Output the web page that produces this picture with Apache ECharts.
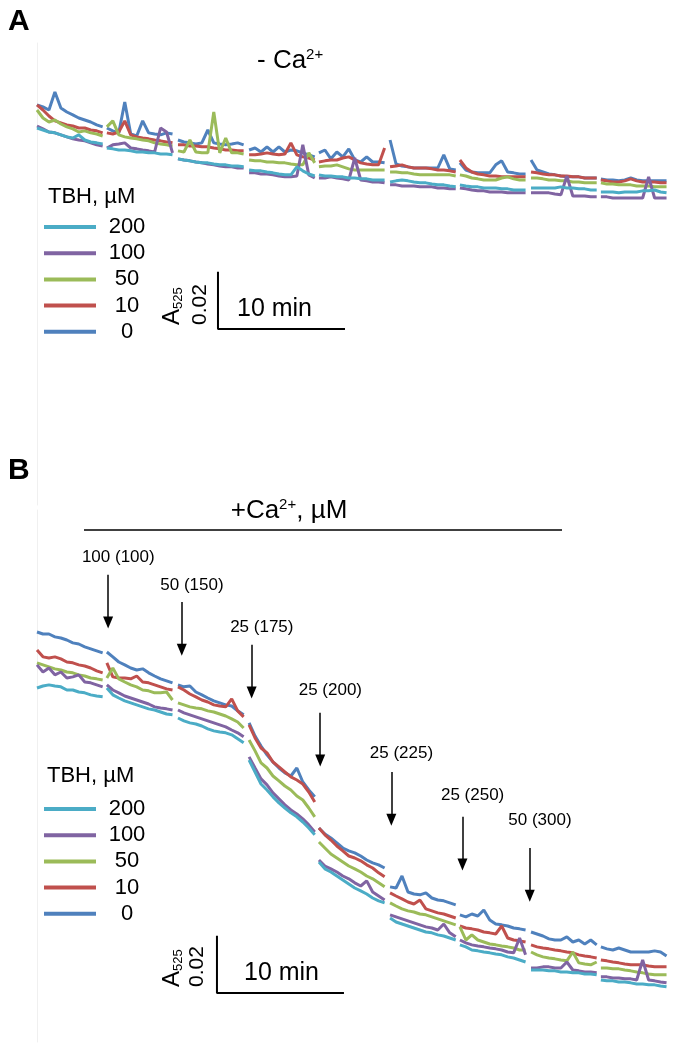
<!DOCTYPE html>
<html>
<head>
<meta charset="utf-8">
<script src="https://cdn.jsdelivr.net/npm/echarts@6/dist/echarts.min.js"></script>
<style>html,body{margin:0;padding:0;background:#fff}#c{width:675px;height:1050px}</style>
</head>
<body>
<div id="c"></div>
<script>
// ---------------- DATA ----------------
// TBH concentrations (µM), in drawing order, and legend order
const tbhLevels = ['0', '10', '50', '100', '200'];
const legendOrder = ['200', '100', '50', '10', '0'];
// Recording segments: start time of each segment (min) and sample interval (min)
const segStartMin = [0, 5.5, 11.1, 16.7, 22.2, 27.8, 33.3, 38.9, 44.4];
const sampleStepMin = 0.47;

// Panel A (- Ca2+): A525 traces, relative mA, one sub-array per segment
const A_tbh0 = [
 [82.3,81.6,80.5,86.8,81.2,79.8,78.8,77.7,77.0,76.3,75.3,74.6],
 [74.2,73.2,72.5,83.3,72.1,71.4,76.7,72.5,72.1,71.8,72.5,72.1],
 [70.0,69.3,69.0,68.6,69.0,73.5,69.0,68.6,68.3,68.6,69.0,68.3],
 [66.5,67.2,65.8,67.6,65.8,67.6,65.8,66.5,66.2,65.5,64.8,64.1],
 [65.5,66.5,63.4,65.8,64.1,66.9,63.0,62.3,64.1,62.3,62.3,62.0],
 [70.0,61.6,60.9,60.6,60.2,60.2,60.2,60.2,60.2,64.8,59.9,59.5],
 [62.0,59.5,58.8,58.5,58.5,58.5,61.3,62.7,58.8,58.5,58.1,58.1],
 [63.0,59.5,58.8,58.1,57.8,57.4,57.1,57.1,57.1,56.7,56.7,56.7],
 [56.4,56.0,56.0,55.7,56.0,56.7,56.0,55.7,55.7,55.7,55.7,55.7]];
const A_tbh10 = [
 [82.3,80.5,78.4,76.7,76.0,75.3,74.9,74.2,74.2,73.5,73.2,72.5],
 [72.5,72.1,72.8,76.7,71.8,71.1,70.7,70.4,70.0,69.7,69.3,69.0],
 [68.3,68.3,67.9,67.9,67.6,67.6,67.2,66.9,66.5,66.5,66.2,66.2],
 [64.8,64.8,65.1,65.5,65.1,64.8,65.1,69.0,64.8,64.1,63.7,63.0],
 [62.3,62.7,63.0,63.0,63.7,64.1,63.0,62.0,61.6,61.3,61.3,67.2],
 [60.6,60.9,61.3,60.6,60.2,60.2,60.2,59.9,59.5,59.5,59.2,58.8],
 [63.0,60.2,58.8,58.1,57.8,57.4,57.4,57.1,57.1,57.1,57.1,57.1],
 [58.8,58.5,58.1,57.8,57.8,57.4,57.4,57.1,57.1,56.7,56.7,56.7],
 [56.0,55.7,55.3,55.3,55.7,56.4,55.7,55.3,55.3,55.3,55.0,55.0]];
const A_tbh50 = [
 [80.5,77.7,76.3,77.0,75.6,74.6,73.9,72.8,73.2,72.5,72.1,71.4],
 [74.6,76.7,71.8,71.1,70.7,70.4,70.0,69.7,69.0,68.6,68.3,67.9],
 [66.2,65.8,70.0,65.8,65.5,65.5,79.8,65.5,70.7,65.5,65.5,65.1],
 [63.0,62.7,62.7,62.3,62.3,62.0,62.0,61.6,61.3,61.3,65.5,62.0],
 [60.6,60.9,60.9,61.3,60.6,59.9,59.5,59.5,59.5,59.5,59.5,59.5],
 [58.8,58.8,58.5,58.5,58.1,57.8,57.8,57.8,57.8,57.8,57.8,57.4],
 [57.8,57.4,56.7,56.4,56.0,56.0,56.0,56.7,57.1,56.4,56.0,56.0],
 [56.7,56.7,56.4,56.0,56.0,55.7,55.7,55.3,55.3,55.0,55.0,55.0],
 [55.0,54.6,54.6,54.3,54.3,54.3,53.9,53.9,53.9,53.6,53.6,53.6]];
const A_tbh100 = [
 [74.9,73.9,72.8,72.5,71.8,71.1,70.4,70.0,69.7,69.0,68.3,67.9],
 [67.2,68.3,68.6,69.0,67.2,66.9,66.5,66.2,65.8,74.2,72.8,65.5],
 [63.4,63.0,62.7,62.3,62.0,61.6,61.3,60.9,60.6,60.6,60.2,60.2],
 [58.5,58.5,58.1,58.1,57.8,57.4,57.1,57.1,57.4,68.3,57.8,56.7],
 [56.7,56.7,57.1,56.7,56.4,56.0,63.7,56.0,55.7,55.3,55.3,55.0],
 [54.3,54.3,53.9,53.9,53.9,53.6,53.6,53.6,53.2,53.2,52.9,52.9],
 [53.2,52.9,52.5,52.2,52.2,51.8,51.8,51.8,51.5,51.5,51.5,51.5],
 [51.5,51.5,51.5,51.5,51.1,50.8,57.4,50.4,50.4,50.4,50.1,50.1],
 [50.1,50.1,49.7,49.7,49.7,49.7,49.7,49.7,57.1,49.7,49.7,49.7]];
const A_tbh200 = [
 [74.2,73.5,72.8,72.5,71.8,71.1,70.7,71.8,70.0,69.3,69.0,68.6],
 [67.2,66.9,66.5,66.5,66.2,65.8,65.8,65.5,65.5,65.1,65.1,64.8],
 [63.4,63.0,62.7,62.3,62.0,62.0,61.6,61.3,61.3,60.9,60.9,60.6],
 [59.5,59.2,59.2,58.8,58.5,58.1,57.8,57.8,60.6,59.2,58.1,57.4],
 [57.8,57.4,57.4,57.1,57.1,56.7,56.7,56.4,56.4,56.0,56.0,56.0],
 [55.3,55.7,56.0,55.7,55.3,55.0,55.0,54.6,54.3,54.3,53.9,53.6],
 [54.3,53.9,53.6,53.6,53.2,53.2,53.2,52.9,52.9,52.5,52.5,52.5],
 [53.2,53.2,53.2,53.2,53.2,53.6,53.2,53.2,52.9,52.9,52.5,52.5],
 [51.8,51.8,51.8,51.5,51.8,51.8,51.8,52.2,52.2,52.5,51.8,51.5]];

// Panel B (+ Ca2+): A525 traces, relative mA
const B_tbh0 = [
 [128.8,128.1,128.1,127.1,126.7,126.0,125.0,124.6,123.6,122.9,122.2,121.5],
 [121.8,120.1,118.3,117.3,116.2,115.5,115.9,114.5,113.4,112.4,111.7,111.0],
 [110.3,109.6,109.9,107.8,106.8,105.7,104.7,104.0,103.3,102.9,101.2,99.8],
 [97.0,92.4,88.9,85.8,83.3,81.2,79.5,78.4,81.2,76.3,73.5,71.1],
 [60.2,58.1,56.7,55.0,53.2,52.2,51.5,50.4,49.0,48.0,47.3,46.2],
 [39.6,39.2,43.4,37.8,37.1,36.8,37.5,35.7,35.0,34.7,34.0,33.3],
 [29.8,29.1,30.1,29.4,31.5,28.0,26.6,26.3,25.9,25.2,24.9,24.5],
 [23.8,23.1,22.4,21.4,21.0,21.0,22.1,20.3,21.0,19.6,21.0,19.3],
 [18.6,17.9,17.5,18.2,17.5,16.8,16.8,16.8,16.8,17.2,16.8,15.4]];
const B_tbh10 = [
 [122.5,120.1,119.7,120.1,119.4,118.3,118.0,117.3,116.9,116.2,115.2,114.5],
 [118.0,113.1,112.7,112.7,112.4,113.4,111.3,111.0,110.3,109.6,108.9,108.5],
 [109.6,108.5,107.1,106.1,105.0,104.3,103.3,102.9,102.6,105.4,101.2,99.1],
 [96.3,91.7,88.2,86.5,83.3,81.6,79.8,78.1,77.0,75.6,72.8,69.3],
 [60.2,57.8,56.0,53.9,52.2,50.4,49.7,48.7,47.3,46.2,44.5,43.1],
 [37.5,36.4,35.4,34.3,33.6,35.0,31.9,31.2,30.5,30.1,29.4,28.7],
 [25.9,25.2,24.9,24.5,23.8,23.5,23.1,25.9,21.7,21.0,20.7,20.3],
 [19.3,18.6,18.2,17.9,17.5,17.2,16.8,16.5,15.8,15.4,15.1,14.7],
 [14.0,13.7,13.3,13.0,12.6,12.3,12.3,12.3,11.9,11.6,11.6,11.6]];
const B_tbh50 = [
 [118.0,117.3,116.6,115.9,115.5,114.8,114.5,113.8,113.4,112.7,112.4,112.0],
 [112.7,116.2,112.4,111.3,110.3,109.6,108.5,108.2,107.5,107.5,107.8,105.0],
 [104.0,103.3,102.6,102.2,101.9,101.2,100.8,100.1,99.4,98.4,97.3,95.2],
 [91.0,87.2,83.0,81.2,78.4,76.7,74.9,73.5,71.4,70.0,67.2,64.1],
 [55.3,53.2,51.1,49.7,48.3,46.9,45.9,44.8,43.4,42.4,41.0,39.6],
 [34.0,32.9,31.9,31.2,30.8,30.1,29.8,29.1,28.4,27.7,27.0,26.3],
 [25.6,21.0,22.8,21.0,20.3,19.6,19.3,18.9,18.6,18.2,17.5,17.5],
 [16.8,15.8,15.1,14.7,14.4,14.0,13.7,16.8,13.0,12.6,12.3,13.3],
 [11.2,11.2,10.9,10.9,10.5,10.2,9.8,9.5,9.1,8.8,8.8,8.8]];
const B_tbh100 = [
 [117.3,114.8,116.2,113.8,114.8,112.7,113.1,113.8,111.3,111.0,110.3,109.6],
 [110.3,108.5,107.5,106.4,105.7,105.0,104.3,103.6,102.6,102.2,101.9,101.5],
 [101.5,100.5,99.8,99.1,98.4,97.7,97.0,96.3,95.6,94.5,93.5,92.1],
 [85.1,81.2,77.4,75.3,72.5,70.4,68.3,66.5,65.1,63.4,61.3,58.8],
 [49.0,46.9,45.9,44.8,43.4,42.4,41.0,39.9,41.7,37.8,36.4,35.0],
 [29.8,29.1,28.4,27.7,27.0,26.3,25.6,25.2,24.5,26.6,23.5,22.1],
 [21.0,20.0,19.3,18.9,18.6,18.2,17.9,17.5,16.8,16.5,21.7,15.8],
 [11.2,11.2,11.6,11.6,11.2,11.2,13.3,10.5,10.2,9.8,9.8,9.5],
 [8.1,8.1,7.7,7.7,7.4,7.4,7.0,14.0,7.0,6.7,6.3,6.0]];
const B_tbh200 = [
 [109.2,109.9,110.3,109.9,109.6,108.5,108.5,107.8,107.5,106.8,106.4,106.1],
 [109.2,106.8,105.7,104.7,104.0,103.3,102.6,101.9,101.5,100.8,100.1,99.8],
 [98.7,97.7,97.0,96.6,95.9,94.9,94.2,93.8,93.5,92.8,91.4,90.0],
 [84.0,79.8,75.6,73.5,71.1,69.0,67.2,65.5,64.1,62.3,60.2,57.8],
 [48.3,45.9,44.8,43.4,42.0,40.6,39.2,38.2,37.1,35.7,34.7,34.0],
 [28.7,27.3,26.6,25.9,25.2,24.5,23.8,23.5,22.8,22.4,21.7,21.0],
 [19.3,18.6,17.5,17.2,16.8,16.5,16.1,15.8,15.1,14.7,14.0,13.3],
 [10.5,10.5,10.5,10.2,10.2,9.8,9.8,9.5,9.5,9.1,9.1,8.8],
 [7.0,6.7,6.7,6.3,6.3,6.0,5.6,5.6,5.3,5.3,4.9,4.6]];

// Ca2+ additions in panel B: time (min), added µM, cumulative µM
const caTimeMin = [5.6, 11.4, 16.9, 22.3, 27.9, 33.5, 38.8];
const caAdded = [100, 50, 25, 25, 25, 25, 50];
const caTotal = [100, 150, 175, 200, 225, 250, 300];

// Scale bars
const scaleBarMin = 10;     // 10 min
const scaleBarMA = 20;      // 0.02 A525 = 20 mA

// ---------------- LAYOUT ----------------
const FONT = '"Liberation Sans", Arial, Helvetica, sans-serif';
const PX_PER_MIN = 12.7;
const PX_PER_MA = 1 / 0.35;
const X_LEFT = 37, X_MAX = 50;
const gA = { top: 43, bottom: 505, zero: 340 };
const gB = { top: 510, bottom: 1042, zero: 1000 };
const colors = { '0': '#4F81BD', '10': '#C0504D', '50': '#9BBB59', '100': '#8064A2', '200': '#4BACC6' };
const panelA = { '0': A_tbh0, '10': A_tbh10, '50': A_tbh50, '100': A_tbh100, '200': A_tbh200 };
const panelB = { '0': B_tbh0, '10': B_tbh10, '50': B_tbh50, '100': B_tbh100, '200': B_tbh200 };
// annotation geometry (mA / min in data space)
const arrowTopMA = [148.8, 139.3, 124.3, 100.5, 79.8, 64.1, 53.2];
const arrowLenMA = 16.7;
const labelMA = [155.1, 145.3, 130.6, 108.5, 86.5, 71.8, 63.0];
const labelDxMin = 0.8;
const sbA = { x: 14.25, y: 3.85 };
const sbB = { x: 14.17, y: 2.45 };

function gridOf(g) {
  return { left: X_LEFT, top: g.top, width: X_MAX * PX_PER_MIN, height: g.bottom - g.top,
           containLabel: false, outerBoundsMode: 'none' };
}
function yAxisOf(g, idx) {
  return { type: 'value', gridIndex: idx, min: -(g.bottom - g.zero) / PX_PER_MA, max: (g.zero - g.top) / PX_PER_MA,
           axisLine: { show: true, lineStyle: { color: '#f0f0f0', width: 1 } },
           axisTick: { show: false }, axisLabel: { show: false }, splitLine: { show: false } };
}
function xAxisOf(idx) {
  return { type: 'value', gridIndex: idx, min: 0, max: X_MAX, axisLine: { show: false },
           axisTick: { show: false }, axisLabel: { show: false }, splitLine: { show: false } };
}
function traceData(segs) {
  const out = [];
  segs.forEach((seg, k) => {
    seg.forEach((v, i) => out.push([+(segStartMin[k] + i * sampleStepMin).toFixed(3), v]));
    if (k < segs.length - 1) out.push([+(segStartMin[k] + seg.length * sampleStepMin).toFixed(3), '-']);
  });
  return out;
}
function traces(panel, idx) {
  return tbhLevels.map(n => ({
    type: 'line', name: n, xAxisIndex: idx, yAxisIndex: idx, data: traceData(panel[n]),
    showSymbol: false, symbol: 'none', connectNulls: false, silent: true, animation: false,
    lineStyle: { color: colors[n], width: 3 }, itemStyle: { color: colors[n] }
  }));
}
function scaleBar(sb, idx) {
  return { type: 'line', name: 'scale', xAxisIndex: idx, yAxisIndex: idx, symbol: 'none', silent: true, animation: false,
           data: [[sb.x, sb.y + scaleBarMA], [sb.x, sb.y], [sb.x + scaleBarMin, sb.y]],
           lineStyle: { color: '#000', width: 2 }, itemStyle: { color: '#000' } };
}
function legendOf(top) {
  return { data: legendOrder, orient: 'vertical', left: 44, top: top, itemWidth: 52, itemHeight: 4, itemGap: 4.2,
           icon: 'rect', padding: 0, selectedMode: false, formatter: '{n|{name}}',
           textStyle: { rich: { n: { fontSize: 22, lineHeight: 22, width: 52, align: 'center', fontFamily: FONT, color: '#000' } } } };
}
const richCommon = (size) => ({ fontSize: size, fontFamily: FONT, fill: '#000' });

const option = {
  backgroundColor: '#fff',
  animation: false,
  grid: [gridOf(gA), gridOf(gB)],
  xAxis: [xAxisOf(0), xAxisOf(1)],
  yAxis: [yAxisOf(gA, 0), yAxisOf(gB, 1)],
  legend: [legendOf(216), legendOf(798)],
  series: [
    ...traces(panelA, 0),
    ...traces(panelB, 1),
    scaleBar(sbA, 0),
    scaleBar(sbB, 1),
    {
      type: 'scatter', name: 'ca', xAxisIndex: 1, yAxisIndex: 1, symbolSize: 0, silent: true, animation: false,
      data: caTimeMin.map((t, i) => ({ value: [t + labelDxMin, labelMA[i]], name: caAdded[i] + ' (' + caTotal[i] + ')' })),
      label: { show: true, position: 'inside', formatter: '{b}', color: '#000000', opacity: 1, textBorderWidth: 0,
               fontSize: 17, fontFamily: FONT },
      markLine: {
        silent: true, animation: false, symbol: ['none', 'triangle'], symbolSize: [10, 12],
        label: { show: false }, emphasis: { disabled: true },
        lineStyle: { color: '#000', width: 1.5, type: 'solid', opacity: 1 }, itemStyle: { color: '#000' },
        data: caTimeMin.map((t, i) => [{ coord: [t, arrowTopMA[i]] }, { coord: [t, arrowTopMA[i] - arrowLenMA] }])
      }
    }
  ],
  graphic: [
    { type: 'text', x: 8, y: 22, style: { text: 'A', font: 'bold 30px ' + FONT, fill: '#000', verticalAlign: 'middle' } },
    { type: 'text', x: 8, y: 471, style: { text: 'B', font: 'bold 30px ' + FONT, fill: '#000', verticalAlign: 'middle' } },
    { type: 'text', x: 257, y: 61, style: { text: '{n|- Ca}{s|2+}', verticalAlign: 'middle', fill: '#000',
        rich: { n: Object.assign(richCommon(26), { lineHeight: 28 }), s: Object.assign(richCommon(15), { lineHeight: 15, verticalAlign: 'top' }) } } },
    { type: 'text', x: 289, y: 511, style: { text: '{n|+Ca}{s|2+}{n|, µM}', align: 'center', verticalAlign: 'middle', fill: '#000',
        rich: { n: Object.assign(richCommon(26), { lineHeight: 28 }), s: Object.assign(richCommon(15), { lineHeight: 15, verticalAlign: 'top' }) } } },
    { type: 'line', shape: { x1: 84, y1: 530, x2: 562, y2: 530 }, style: { stroke: '#000', lineWidth: 1.5 } },
    { type: 'text', x: 48, y: 197, style: { text: 'TBH, µM', font: '22px ' + FONT, fill: '#000', verticalAlign: 'middle' } },
    { type: 'text', x: 47, y: 776, style: { text: 'TBH, µM', font: '22px ' + FONT, fill: '#000', verticalAlign: 'middle' } },
    { type: 'text', x: 274.5, y: 309, style: { text: '10 min', font: '25px ' + FONT, fill: '#000', align: 'center', verticalAlign: 'middle' } },
    { type: 'text', x: 281.5, y: 973, style: { text: '10 min', font: '25px ' + FONT, fill: '#000', align: 'center', verticalAlign: 'middle' } },
    { type: 'text', x: 172, y: 325, rotation: Math.PI / 2, style: { text: '{a|A}{s|525}', align: 'left', verticalAlign: 'middle', fill: '#000',
        rich: { a: Object.assign(richCommon(24), { lineHeight: 26 }), s: Object.assign(richCommon(13), { lineHeight: 13, verticalAlign: 'bottom' }) } } },
    { type: 'text', x: 200, y: 325, rotation: Math.PI / 2, style: { text: '0.02', font: '21px ' + FONT, fill: '#000', align: 'left', verticalAlign: 'middle' } },
    { type: 'text', x: 172, y: 987, rotation: Math.PI / 2, style: { text: '{a|A}{s|525}', align: 'left', verticalAlign: 'middle', fill: '#000',
        rich: { a: Object.assign(richCommon(24), { lineHeight: 26 }), s: Object.assign(richCommon(13), { lineHeight: 13, verticalAlign: 'bottom' }) } } },
    { type: 'text', x: 197, y: 987, rotation: Math.PI / 2, style: { text: '0.02', font: '21px ' + FONT, fill: '#000', align: 'left', verticalAlign: 'middle' } }
  ]
};

const chart = echarts.init(document.getElementById('c'), null, { renderer: 'canvas', width: 675, height: 1050 });
chart.setOption(option);
</script>
</body>
</html>
